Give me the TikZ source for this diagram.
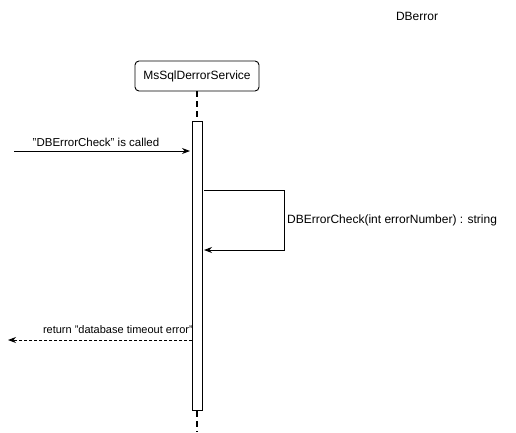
\documentclass[tikz,border=0pt]{standalone}
\usepackage{fontspec}
\setmainfont{Liberation Sans}
\usetikzlibrary{arrows.meta}
\begin{document}
\begin{tikzpicture}[x=1pt,y=-1pt,
  actor/.style={draw,rounded corners=4pt,line width=0.9pt,minimum width=124pt,minimum height=30pt,inner sep=0pt,font=\fontsize{12}{14}\selectfont},
  lifeline/.style={line width=1.6pt,dash pattern=on 6pt off 4pt},
  act/.style={draw,fill=white,line width=0.9pt,minimum width=10pt,minimum height=289pt,inner sep=0pt},
  msg/.style={line width=0.9pt,-{Stealth[length=8pt,width=6pt]}},
  ret/.style={line width=0.9pt,dash pattern=on 3pt off 2pt,-{Stealth[length=8pt,width=6pt]}},
  lbl/.style={font=\fontsize{11}{13}\selectfont,inner sep=1pt},
  lblb/.style={font=\fontsize{12}{14}\selectfont,inner sep=1pt}]
\useasboundingbox (0,0) rectangle (516,432);
\node[lblb] (title) at (417,16) {DBerror};
\node[actor] (svc) at (197,76) {MsSqlDerrorService};
\coordinate (lifeend) at (197,432);
\draw[lifeline] (svc.south) -- (lifeend);
\node[act] (bar) at (197,265.5) {};
\coordinate (start1) at (14,151);
\coordinate (end1) at (190,151);
\draw[msg] (start1) -- (end1);
\node[lbl,font=\fontsize{11.5}{13}\selectfont] (l1) at (96,142) {"DBErrorCheck" is called};
\coordinate (s2) at (204,190);
\coordinate (e2) at (204,250);
\draw[msg] (s2) -- (284,190) -- (284,250) -- (e2);
\node[lblb,anchor=west] (l2) at (286,220) {DBErrorCheck(int errorNumber) : string};
\coordinate (s3) at (192,340);
\coordinate (e3) at (8,340);
\node[lbl,anchor=east] (l3) at (194,330) {return "database timeout error"};
\draw[ret] (s3) -- (e3);
\end{tikzpicture}
\end{document}
